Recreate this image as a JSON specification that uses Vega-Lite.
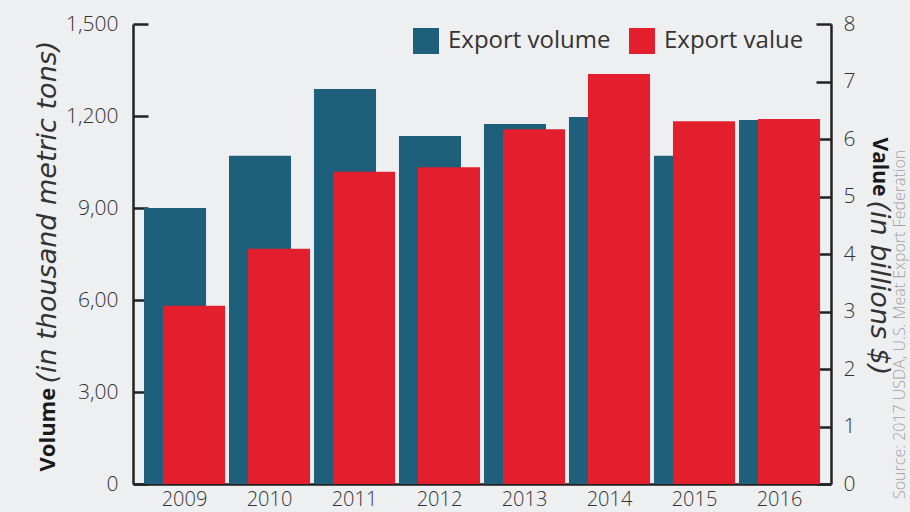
{
  "$schema": "https://vega.github.io/schema/vega-lite/v6.json",
  "width": 698,
  "height": 460,
  "autosize": "none",
  "padding": {"left": 133, "top": 24, "right": 79, "bottom": 28},
  "background": "#eeeff0",
  "config": {
    "view": {"stroke": null},
    "font": "Open Sans",
    "axis": {"domainColor": "#222", "domainWidth": 2.5, "tickColor": "#222", "tickWidth": 2.5, "grid": false, "labelColor": "#333", "titleColor": "#1a1a1a"}
  },
  "title": {"text": "Source: 2017 USDA, U.S. Meat Export Federation", "orient": "right", "anchor": "end", "angle": -90, "align": "left", "fontSize": 16, "fontWeight": 300, "color": "#a3a3a3", "offset": -16, "dx": 10},
  "data": {"values": [
    {"year": "2009", "series": "Export volume", "amount": 900},
    {"year": "2010", "series": "Export volume", "amount": 1070},
    {"year": "2011", "series": "Export volume", "amount": 1288},
    {"year": "2012", "series": "Export volume", "amount": 1135},
    {"year": "2013", "series": "Export volume", "amount": 1174},
    {"year": "2014", "series": "Export volume", "amount": 1197},
    {"year": "2015", "series": "Export volume", "amount": 1070},
    {"year": "2016", "series": "Export volume", "amount": 1187},
    {"year": "2009", "series": "Export value", "amount": 3.10},
    {"year": "2010", "series": "Export value", "amount": 4.09},
    {"year": "2011", "series": "Export value", "amount": 5.43},
    {"year": "2012", "series": "Export value", "amount": 5.51},
    {"year": "2013", "series": "Export value", "amount": 6.17},
    {"year": "2014", "series": "Export value", "amount": 7.13},
    {"year": "2015", "series": "Export value", "amount": 6.31},
    {"year": "2016", "series": "Export value", "amount": 6.35}
  ]},
  "layer": [
    {
      "transform": [{"filter": "datum.series == 'Export volume'"}],
      "mark": {"type": "bar", "width": {"band": 0.73}, "xOffset": -9.5, "opacity": 1},
      "encoding": {
        "x": {"field": "year", "type": "ordinal", "scale": {"paddingInner": 0, "paddingOuter": 0.106},
          "axis": {"orient": "bottom", "labelAngle": 0, "ticks": false, "labelFontSize": 20, "labelFontWeight": 300, "labelPadding": 5, "domainColor": "#222",
            "title": "Volume", "titleFontSize": 22, "titleFontWeight": "bold", "titleAngle": -90, "titleAlign": "left", "titleBaseline": "middle", "titleX": -86, "titleY": -13}},
        "y": {"field": "amount", "type": "quantitative", "scale": {"domain": [0, 1500], "nice": false},
          "axis": {"orient": "left", "values": [0, 300, 600, 900, 1200, 1500], "labelExpr": "datum.value == 300 ? '3,00' : datum.value == 600 ? '6,00' : datum.value == 900 ? '9,00' : format(datum.value, ',')", "labelFontSize": 21, "labelFontWeight": 300, "tickSize": -15, "labelPadding": 30,
            "title": "(in thousand metric tons)", "titleFont": "DejaVu Sans", "titleFontSize": 27, "titleFontWeight": "normal", "titleFontStyle": "italic", "titleColor": "#333", "titleAngle": -90, "titleAlign": "left", "titleBaseline": "middle", "titleX": -86, "titleY": 359, "titleLimit": 500}},
        "color": {"field": "series", "type": "nominal",
          "scale": {"domain": ["Export volume", "Export value"], "range": ["#1e5f7c", "#e31e2d"]},
          "legend": {"title": null, "orient": "none", "legendX": 280, "legendY": 4, "direction": "horizontal", "symbolType": "square", "symbolSize": 676, "symbolStrokeWidth": 0, "symbolOpacity": 1, "labelFontSize": 24, "labelFontWeight": "normal", "labelColor": "#333", "labelOffset": 9, "labelLimit": 300, "columnPadding": 18}}
      }
    },
    {
      "transform": [{"filter": "datum.series == 'Export value'"}],
      "mark": {"type": "bar", "width": {"band": 0.73}, "xOffset": 9.5, "opacity": 1},
      "encoding": {
        "x": {"field": "year", "type": "ordinal",
          "axis": {"orient": "top", "labels": false, "ticks": false, "domain": false,
            "title": "Value", "titleFontSize": 21, "titleFontWeight": "bold", "titleAngle": 90, "titleAlign": "left", "titleBaseline": "middle", "titleX": 745, "titleY": 113}},
        "y": {"field": "amount", "type": "quantitative", "scale": {"domain": [0, 8], "nice": false},
          "axis": {"orient": "right", "values": [0, 1, 2, 3, 4, 5, 6, 7, 8], "labelFontSize": 21, "labelFontWeight": 300, "tickSize": -15, "labelPadding": 27,
            "title": "(in billions $)", "titleFont": "DejaVu Sans", "titleFontSize": 27, "titleFontWeight": "normal", "titleFontStyle": "italic", "titleColor": "#333", "titleAngle": 90, "titleAlign": "left", "titleBaseline": "middle", "titleX": 47, "titleY": 176}},
        "color": {"field": "series", "type": "nominal"}
      }
    }
  ],
  "resolve": {"scale": {"y": "independent"}, "axis": {"x": "independent"}}
}
